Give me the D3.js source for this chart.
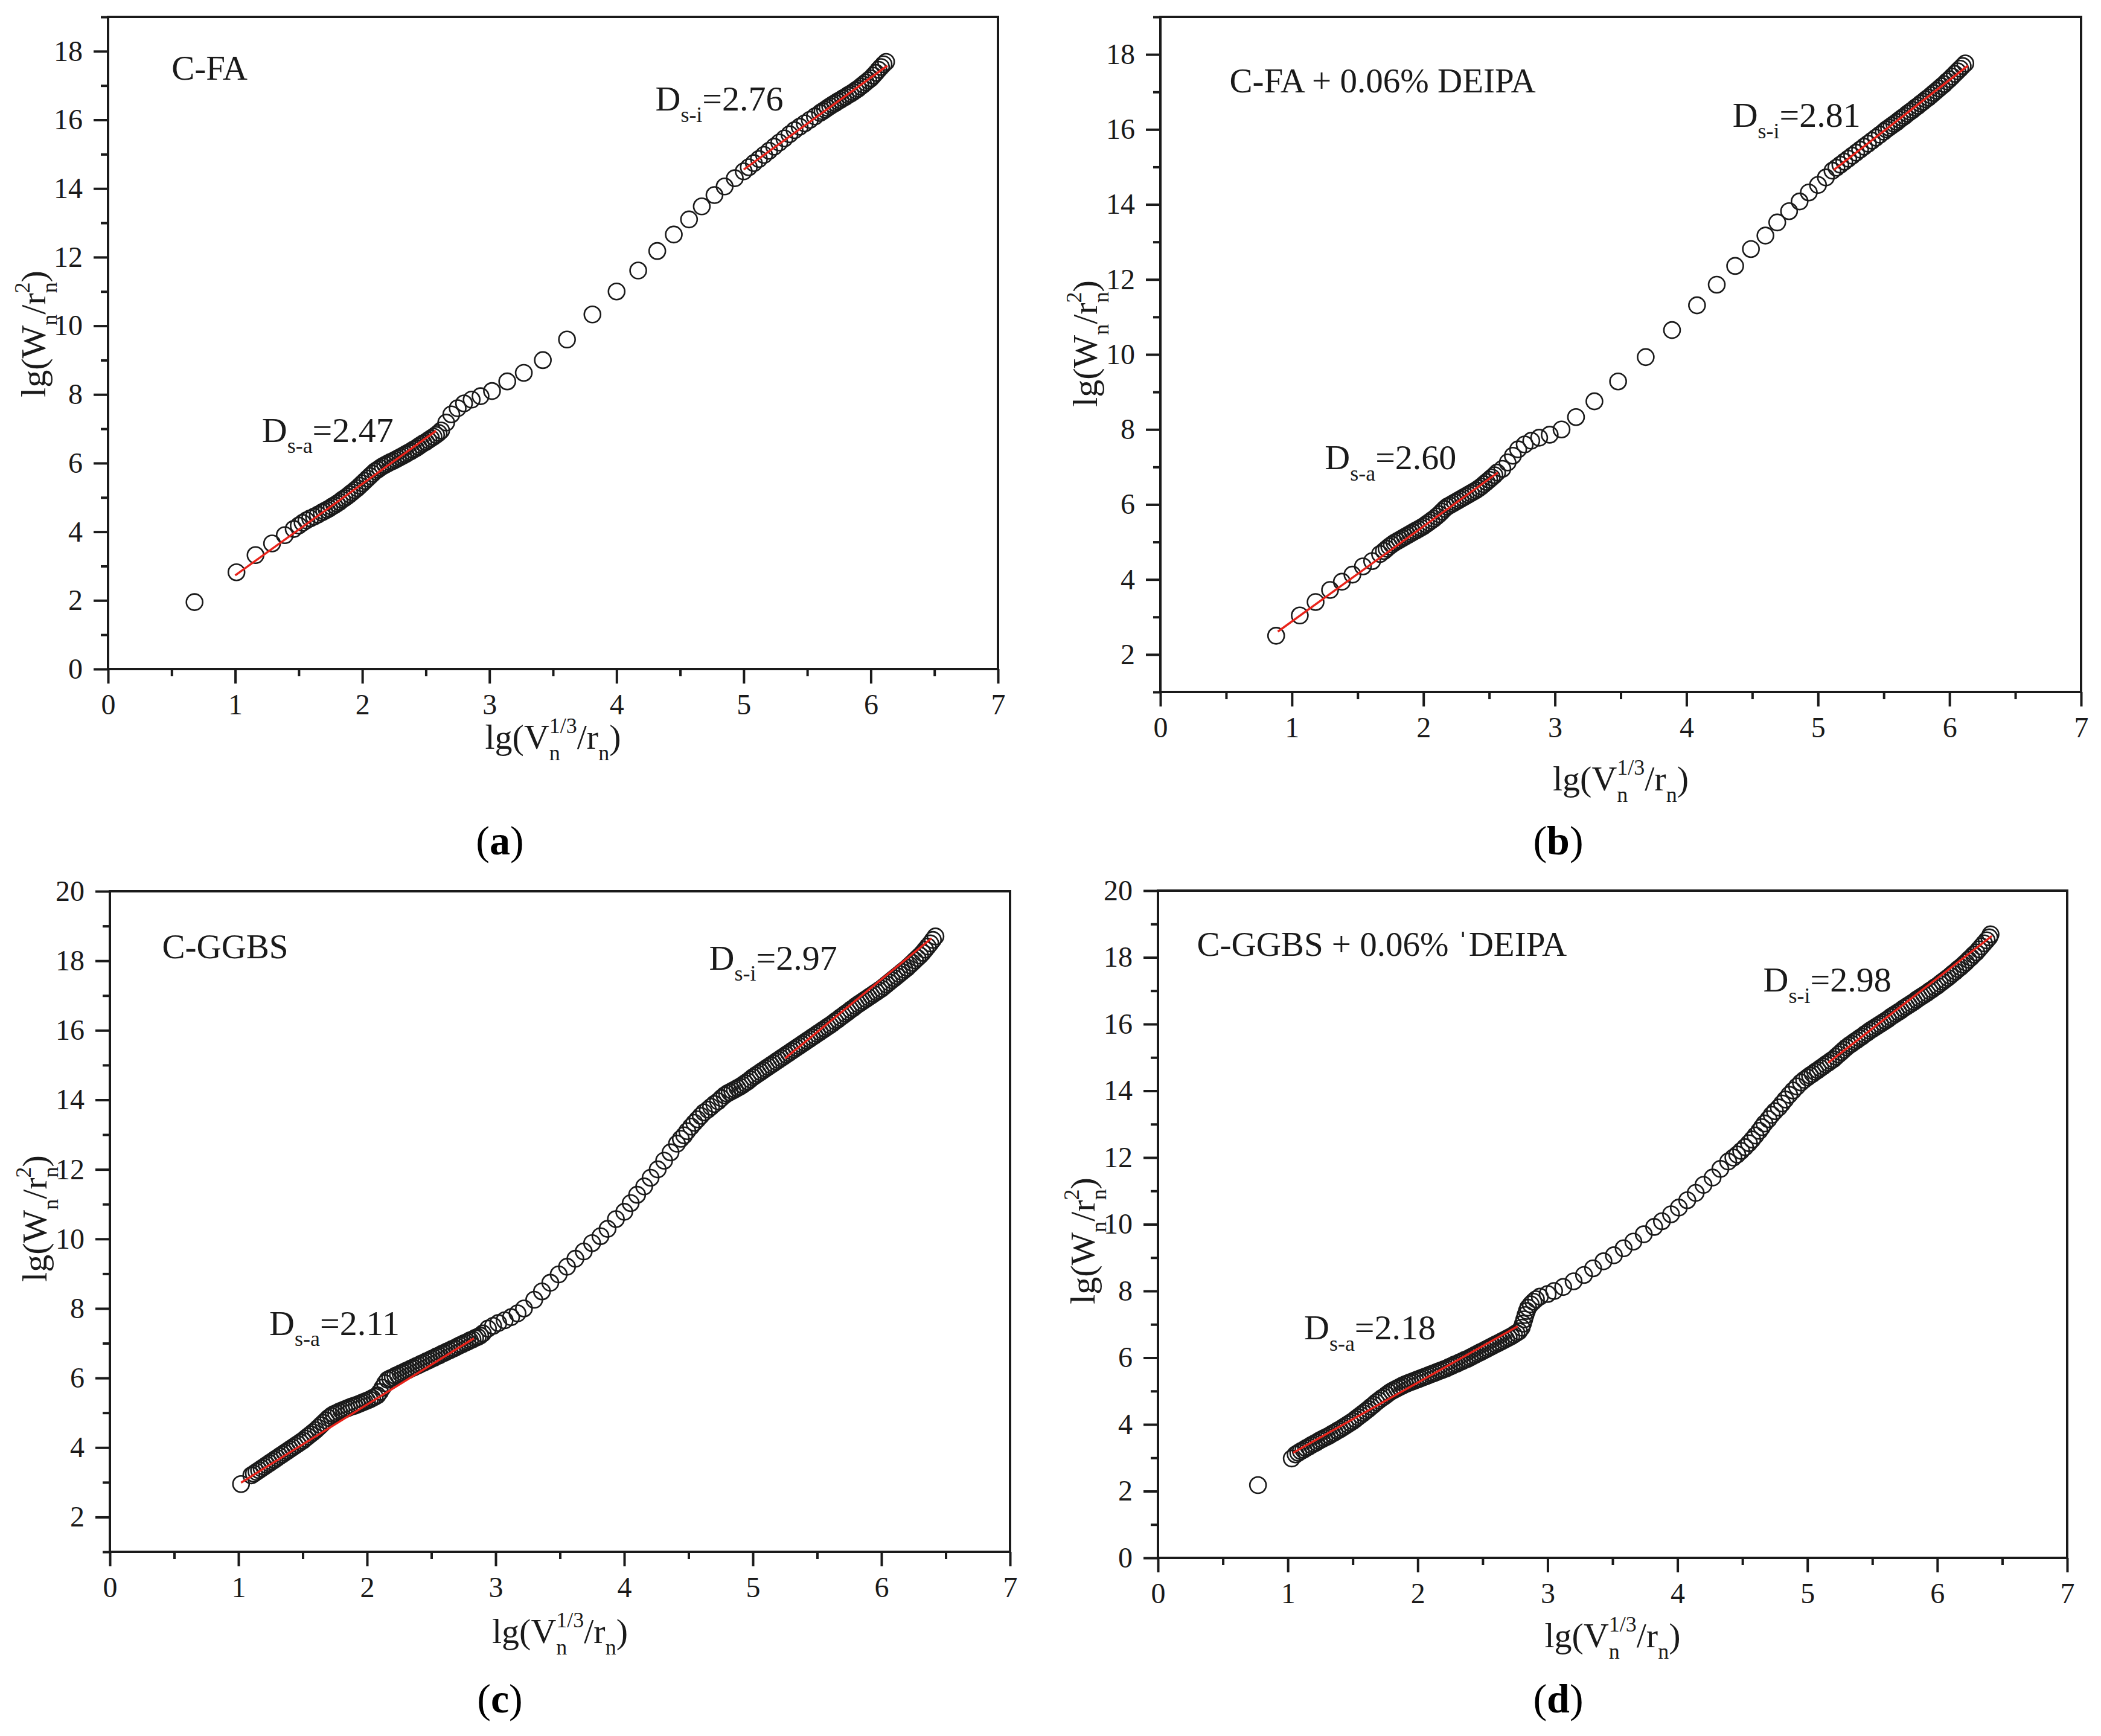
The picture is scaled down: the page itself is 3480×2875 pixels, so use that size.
<!DOCTYPE html>
<html>
<head>
<meta charset="utf-8">
<script src="https://cdn.jsdelivr.net/npm/d3@7"></script>
<style>
  body { margin: 0; background: #fff; }
  svg { display: block; }
</style>
</head>
<body>
<div id="chart"></div>
<script>
// ---- data: [lg(V^1/3/r), lg(W/r^2)] ----
var cfaPts = [
  [0.68,1.95],[1.01,2.82],[1.16,3.32],[1.29,3.66],[1.39,3.90],[1.46,4.08],
  [1.50,4.18],[1.53,4.26],[1.56,4.33],[1.59,4.39],[1.62,4.44],[1.65,4.50],[1.68,4.56],
  [1.70,4.60],[1.72,4.64],[1.74,4.68],[1.76,4.73],[1.78,4.77],[1.80,4.82],[1.82,4.87],[1.84,4.93],[1.86,4.98],[1.88,5.03],[1.90,5.09],
  [1.92,5.15],[1.94,5.21],[1.96,5.27],[1.98,5.34],[2.00,5.41],[2.02,5.48],[2.04,5.55],[2.06,5.62],[2.08,5.69],[2.10,5.76],
  [2.12,5.81],[2.14,5.86],[2.16,5.91],[2.18,5.95],[2.20,5.99],[2.22,6.03],[2.24,6.06],[2.26,6.10],[2.28,6.14],[2.30,6.18],
  [2.32,6.22],[2.34,6.26],[2.36,6.30],[2.38,6.34],[2.40,6.39],[2.42,6.43],[2.44,6.48],[2.46,6.53],[2.48,6.58],[2.50,6.62],
  [2.52,6.67],[2.54,6.72],[2.56,6.77],[2.58,6.82],[2.60,6.88],
  [2.62,6.95],[2.66,7.18],[2.70,7.42],[2.75,7.60],[2.80,7.74],[2.86,7.85],[2.93,7.95],[3.02,8.10],[3.14,8.38],[3.27,8.63],
  [3.42,9.00],[3.61,9.60],[3.81,10.33],[4.00,11.00],[4.17,11.61],[4.32,12.18],[4.45,12.66],[4.57,13.10],[4.67,13.48],
  [4.77,13.81],[4.85,14.06],[4.93,14.30],
  [5.00,14.50],[5.04,14.62],[5.08,14.74],[5.12,14.86],[5.16,14.98],[5.20,15.10],[5.24,15.22],[5.28,15.34],[5.32,15.46],
  [5.36,15.58],[5.40,15.70],[5.44,15.80],[5.48,15.90],[5.52,16.00],[5.56,16.10],
  [5.60,16.20],[5.62,16.25],[5.64,16.30],[5.66,16.35],[5.68,16.40],[5.70,16.45],[5.72,16.49],[5.74,16.54],[5.76,16.58],
  [5.78,16.63],[5.80,16.67],[5.82,16.72],[5.84,16.76],[5.86,16.81],[5.88,16.86],[5.90,16.91],[5.92,16.97],[5.94,17.03],
  [5.96,17.09],[5.98,17.15],[6.00,17.21],[6.02,17.29],[6.04,17.37],[6.06,17.46],[6.08,17.54],[6.10,17.62],[6.12,17.69]
];

var cfaDeipaPts = [
  [0.88,2.50],[1.06,3.04],[1.18,3.40],[1.29,3.72],[1.38,3.94],[1.46,4.13],[1.54,4.35],[1.61,4.49],[1.67,4.68],
  [1.70,4.76],[1.72,4.82],[1.74,4.88],[1.76,4.93],[1.78,4.98],[1.80,5.02],[1.82,5.06],[1.84,5.10],[1.86,5.14],[1.88,5.18],
  [1.90,5.22],[1.92,5.26],[1.94,5.30],[1.96,5.34],[1.98,5.38],[2.00,5.42],[2.02,5.47],[2.04,5.52],[2.06,5.57],[2.08,5.62],
  [2.10,5.68],[2.12,5.74],[2.14,5.81],[2.16,5.88],[2.18,5.94],[2.20,5.98],[2.22,6.02],[2.24,6.06],[2.26,6.10],[2.28,6.14],
  [2.30,6.18],[2.32,6.22],[2.34,6.26],[2.36,6.30],[2.38,6.34],[2.40,6.38],[2.42,6.43],[2.44,6.48],[2.46,6.54],[2.48,6.60],
  [2.50,6.66],[2.52,6.72],[2.54,6.78],[2.56,6.85],
  [2.60,6.95],[2.64,7.12],[2.68,7.30],[2.72,7.47],[2.77,7.60],[2.82,7.70],[2.88,7.78],[2.96,7.86],[3.05,8.00],[3.16,8.33],
  [3.30,8.75],[3.48,9.28],[3.69,9.93],[3.89,10.65],[4.08,11.31],[4.23,11.86],[4.37,12.36],[4.49,12.81],[4.60,13.17],
  [4.69,13.52],[4.78,13.82],[4.86,14.08],[4.93,14.32],[5.00,14.52],[5.06,14.72],[5.11,14.90],
  [5.14,14.98],[5.17,15.06],[5.20,15.14],[5.23,15.22],[5.26,15.30],[5.29,15.38],[5.32,15.46],[5.35,15.54],[5.38,15.62],
  [5.41,15.70],[5.44,15.78],[5.47,15.86],[5.50,15.94],[5.52,16.00],[5.54,16.05],[5.56,16.10],[5.58,16.15],[5.60,16.20],
  [5.62,16.26],[5.64,16.31],[5.66,16.36],[5.68,16.42],[5.70,16.47],[5.72,16.52],[5.74,16.58],[5.76,16.63],[5.78,16.69],
  [5.80,16.74],[5.82,16.80],[5.84,16.85],[5.86,16.91],[5.88,16.97],[5.90,17.03],[5.92,17.09],[5.94,17.15],[5.96,17.21],
  [5.98,17.28],[6.00,17.34],[6.02,17.41],[6.04,17.48],[6.06,17.55],[6.08,17.62],[6.10,17.69],[6.12,17.76]
];

var ggbsPts = [
  [1.02,2.95],
  [1.10,3.20],[1.12,3.25],[1.14,3.30],[1.16,3.35],[1.18,3.40],[1.20,3.45],[1.22,3.50],[1.24,3.55],[1.26,3.60],[1.28,3.65],
  [1.30,3.70],[1.32,3.75],[1.34,3.80],[1.36,3.85],[1.38,3.90],[1.40,3.95],[1.42,4.00],[1.44,4.05],[1.46,4.10],[1.48,4.15],
  [1.50,4.20],[1.52,4.26],[1.54,4.32],[1.56,4.38],[1.58,4.44],[1.60,4.50],[1.62,4.57],[1.64,4.64],[1.66,4.71],[1.68,4.78],
  [1.70,4.85],[1.72,4.91],[1.74,4.96],[1.76,4.99],[1.78,5.03],[1.80,5.06],[1.82,5.09],[1.84,5.12],[1.86,5.15],[1.88,5.18],
  [1.90,5.20],[1.92,5.23],[1.94,5.26],[1.96,5.29],[1.98,5.32],[2.00,5.35],[2.02,5.38],[2.04,5.42],[2.06,5.46],[2.08,5.50],
  [2.10,5.60],[2.12,5.72],[2.14,5.85],[2.16,5.95],[2.18,5.99],[2.20,6.02],[2.22,6.06],[2.24,6.09],[2.26,6.13],[2.28,6.16],
  [2.30,6.20],[2.32,6.23],[2.34,6.27],[2.36,6.30],[2.38,6.34],[2.40,6.37],[2.42,6.41],[2.44,6.44],[2.46,6.48],[2.48,6.51],
  [2.50,6.55],[2.52,6.58],[2.54,6.62],[2.56,6.65],[2.58,6.69],[2.60,6.72],[2.62,6.76],[2.64,6.79],[2.66,6.83],[2.68,6.86],
  [2.70,6.90],[2.72,6.94],[2.74,6.97],[2.76,7.01],[2.78,7.04],[2.80,7.08],[2.82,7.11],[2.84,7.15],[2.86,7.18],[2.88,7.22],
  [2.90,7.28],[2.94,7.42],[2.98,7.50],[3.02,7.58],[3.07,7.66],[3.12,7.75],[3.17,7.86],[3.22,8.00],
  [3.30,8.25],[3.36,8.49],[3.425,8.74],[3.49,8.98],[3.555,9.20],[3.62,9.43],[3.685,9.64],[3.75,9.88],[3.815,10.08],
  [3.87,10.29],[3.935,10.57],[4.00,10.78],[4.05,11.03],[4.10,11.27],[4.155,11.51],[4.205,11.76],[4.26,12.00],[4.31,12.25],
  [4.36,12.49],[4.41,12.74],[4.44,12.88],[4.466,12.98],[4.49,13.10],[4.52,13.23],[4.545,13.34],[4.57,13.44],[4.595,13.54],
  [4.62,13.64],[4.65,13.72],[4.675,13.80],[4.70,13.88],[4.73,13.96],[4.755,14.05],[4.78,14.13],[4.80,14.18],
  [4.82,14.22],[4.84,14.26],[4.86,14.30],[4.88,14.34],[4.90,14.38],[4.92,14.43],[4.94,14.48],[4.96,14.53],[4.98,14.59],
  [5.00,14.65],[5.02,14.70],[5.04,14.75],[5.06,14.80],[5.08,14.85],[5.10,14.90],[5.12,14.95],[5.14,15.00],[5.16,15.05],
  [5.18,15.10],[5.20,15.15],[5.22,15.20],[5.24,15.25],[5.26,15.30],[5.28,15.35],[5.30,15.40],[5.32,15.45],[5.34,15.50],
  [5.36,15.55],[5.38,15.60],[5.40,15.65],[5.42,15.70],[5.44,15.75],[5.46,15.80],[5.48,15.85],[5.50,15.90],[5.52,15.95],
  [5.54,16.00],[5.56,16.05],[5.58,16.10],[5.60,16.15],[5.62,16.20],[5.64,16.26],[5.66,16.31],[5.68,16.37],[5.70,16.42],
  [5.72,16.48],[5.74,16.53],[5.76,16.59],[5.78,16.64],[5.80,16.70],[5.82,16.75],[5.84,16.80],[5.86,16.85],[5.88,16.90],
  [5.90,16.95],[5.92,17.00],[5.94,17.05],[5.96,17.10],[5.98,17.15],[6.00,17.20],[6.02,17.26],[6.04,17.32],[6.06,17.38],
  [6.08,17.44],[6.10,17.50],[6.12,17.56],[6.14,17.62],[6.16,17.68],[6.18,17.74],[6.20,17.80],[6.22,17.87],[6.24,17.94],
  [6.26,18.01],[6.28,18.08],[6.30,18.15],[6.32,18.23],[6.34,18.32],[6.36,18.41],[6.38,18.50],[6.40,18.60],[6.42,18.70]
];

var ggbsDeipaPts = [
  [0.77,2.18],[1.03,2.98],
  [1.06,3.10],[1.08,3.15],[1.10,3.20],[1.12,3.24],[1.14,3.29],[1.16,3.33],[1.18,3.38],[1.20,3.42],[1.22,3.46],[1.24,3.51],
  [1.26,3.55],[1.28,3.59],[1.30,3.63],[1.32,3.67],[1.34,3.72],[1.36,3.76],[1.38,3.81],[1.40,3.85],[1.42,3.90],[1.44,3.95],
  [1.46,4.00],[1.48,4.05],[1.50,4.10],[1.52,4.16],[1.54,4.22],[1.56,4.28],[1.58,4.34],[1.60,4.40],[1.62,4.46],[1.64,4.53],
  [1.66,4.59],[1.68,4.66],[1.70,4.72],[1.72,4.78],[1.74,4.83],[1.76,4.89],[1.78,4.95],[1.80,5.00],[1.82,5.04],[1.84,5.08],
  [1.86,5.12],[1.88,5.16],[1.90,5.20],[1.92,5.23],[1.94,5.26],[1.96,5.29],[1.98,5.32],[2.00,5.35],[2.02,5.38],[2.04,5.41],
  [2.06,5.44],[2.08,5.47],[2.10,5.50],[2.12,5.53],[2.14,5.56],[2.16,5.59],[2.18,5.62],[2.20,5.65],[2.22,5.68],[2.24,5.72],
  [2.26,5.75],[2.28,5.79],[2.30,5.82],[2.32,5.86],[2.34,5.89],[2.36,5.93],[2.38,5.96],[2.40,6.00],[2.42,6.04],[2.44,6.08],
  [2.46,6.12],[2.48,6.16],[2.50,6.20],[2.52,6.24],[2.54,6.28],[2.56,6.32],[2.58,6.36],[2.60,6.40],[2.62,6.44],[2.64,6.48],
  [2.66,6.52],[2.68,6.56],[2.70,6.60],[2.72,6.64],[2.74,6.69],[2.76,6.74],[2.78,6.79],
  [2.80,6.90],[2.81,7.02],[2.82,7.15],[2.83,7.28],[2.84,7.40],[2.85,7.50],[2.87,7.60],[2.89,7.68],[2.91,7.75],
  [2.94,7.83],[3.00,7.91],[3.05,8.00],[3.12,8.12],[3.20,8.29],[3.28,8.48],[3.35,8.68],[3.43,8.89],[3.51,9.07],[3.585,9.28],
  [3.66,9.48],[3.74,9.70],[3.82,9.92],[3.88,10.09],[3.95,10.30],[4.01,10.50],[4.075,10.72],[4.14,10.94],[4.20,11.18],
  [4.27,11.40],[4.33,11.66],[4.39,11.88],[4.43,12.00],[4.46,12.09],[4.49,12.20],[4.52,12.31],[4.55,12.43],[4.575,12.54],
  [4.60,12.66],[4.63,12.80],[4.65,12.91],[4.67,13.02],[4.70,13.15],[4.725,13.28],[4.75,13.39],[4.78,13.50],[4.805,13.62],
  [4.83,13.74],[4.86,13.88],[4.89,14.01],[4.92,14.13],[4.95,14.25],[4.975,14.33],
  [5.00,14.40],[5.02,14.46],[5.04,14.51],[5.06,14.57],[5.08,14.62],[5.10,14.68],[5.12,14.73],[5.14,14.79],[5.16,14.84],
  [5.18,14.90],[5.20,14.95],[5.22,15.02],[5.24,15.09],[5.26,15.16],[5.28,15.23],[5.30,15.30],[5.32,15.36],[5.34,15.41],
  [5.36,15.47],[5.38,15.52],[5.40,15.58],[5.42,15.63],[5.44,15.69],[5.46,15.74],[5.48,15.80],[5.50,15.85],[5.52,15.90],
  [5.54,15.95],[5.56,16.00],[5.58,16.05],[5.60,16.10],[5.62,16.15],[5.64,16.21],[5.66,16.26],[5.68,16.31],[5.70,16.36],
  [5.72,16.41],[5.74,16.47],[5.76,16.52],[5.78,16.57],[5.80,16.62],[5.82,16.67],[5.84,16.73],[5.86,16.78],[5.88,16.83],
  [5.90,16.88],[5.92,16.93],[5.94,16.99],[5.96,17.04],[5.98,17.10],[6.00,17.15],[6.02,17.21],[6.04,17.27],[6.06,17.33],
  [6.08,17.39],[6.10,17.45],[6.12,17.52],[6.14,17.58],[6.16,17.65],[6.18,17.71],[6.20,17.78],[6.22,17.85],[6.24,17.93],
  [6.26,18.00],[6.28,18.08],[6.30,18.15],[6.32,18.24],[6.34,18.33],[6.36,18.42],[6.38,18.51],[6.40,18.60],[6.41,18.69]
];

// red fit lines (start, end) for the s-a and s-i regions
var cfaFits = [[[1.00,2.73],[2.58,6.94]], [[5.00,14.55],[6.13,17.58]]];
var cfaDeipaFits = [[[0.893,2.61],[2.566,6.85]], [[5.12,14.92],[6.14,17.70]]];
var ggbsFits = [[[1.02,2.99],[2.83,7.14]], [[5.25,15.19],[6.39,18.65]]];
var ggbsDeipaFits = [[[1.04,3.15],[2.77,6.94]], [[5.16,14.84],[6.42,18.64]]];

// sample names and fractal dimensions
var sampleNames = ["C-FA", "C-FA + 0.06% DEIPA", "C-GGBS", "C-GGBS + 0.06% \u02c8DEIPA"];
var dsaValues = ["2.47", "2.60", "2.11", "2.18"];
var dsiValues = ["2.76", "2.81", "2.97", "2.98"];
var panelTags = ["a", "b", "c", "d"];

// tick labels
var xTicks = [0, 1, 2, 3, 4, 5, 6, 7];
var yTicksA = [0, 2, 4, 6, 8, 10, 12, 14, 16, 18];
var yTicksB = [2, 4, 6, 8, 10, 12, 14, 16, 18];
var yTicksC = [2, 4, 6, 8, 10, 12, 14, 16, 18, 20];
var yTicksD = [0, 2, 4, 6, 8, 10, 12, 14, 16, 18, 20];

var FONT = "'Liberation Serif', 'Times New Roman', serif";
var INK = "#1a1a1a";

// layout of the four panels (pixels) and where their texts sit (data units)
var panels = [
  { pts: cfaPts, fits: cfaFits, yTicks: yTicksA, yDomain: [0, 19],
    left: 179, right: 1653, top: 28, bottom: 1108,
    nameAt: [0.5, 17.17], dsaAt: [1.21, 6.62], dsiAt: [4.305, 16.27],
    xTitleY: 1240, yTitleX: 75, yTitleY: 553, tagX: 828, tagY: 1415 },
  { pts: cfaDeipaPts, fits: cfaDeipaFits, yTicks: yTicksB, yDomain: [1, 19],
    left: 1922, right: 3447, top: 28, bottom: 1146,
    nameAt: [0.525, 16.98], dsaAt: [1.25, 6.94], dsiAt: [4.35, 16.07],
    xTitleY: 1309, yTitleX: 1817, yTitleY: 569, tagX: 2581, tagY: 1415 },
  { pts: ggbsPts, fits: ggbsFits, yTicks: yTicksC, yDomain: [1, 20],
    left: 182, right: 1673, top: 1476, bottom: 2570,
    nameAt: [0.406, 18.07], dsaAt: [1.24, 7.24], dsiAt: [4.66, 17.75],
    xTitleY: 2721, yTitleX: 77, yTitleY: 2018, tagX: 828, tagY: 2836 },
  { pts: ggbsDeipaPts, fits: ggbsDeipaFits, yTicks: yTicksD, yDomain: [0, 20],
    left: 1918, right: 3424, top: 1475, bottom: 2580,
    nameAt: [0.30, 18.04], dsaAt: [1.125, 6.55], dsiAt: [4.66, 16.97],
    xTitleY: 2728, yTitleX: 1813, yTitleY: 2055, tagX: 2581, tagY: 2836 }
];

var svg = d3.select("#chart").append("svg")
  .attr("width", 3480)
  .attr("height", 2875)
  .style("background", "#fff");

// text with sub/superscript pieces: [text, "sub"|"sup"|undefined, dx]
function richText(sel, parts, size) {
  var shift = 0;
  parts.forEach(function(p) {
    var target = p[1] === "sub" ? 0.32 * size : (p[1] === "sup" ? -0.45 * size : 0);
    var t = sel.append("tspan").attr("dy", target - shift).text(p[0]);
    if (p[1]) t.attr("font-size", size * 0.62);
    if (p[2]) t.attr("dx", p[2]);
    shift = target;
  });
}

function styleAxis(g) {
  g.select(".domain").remove();
  g.selectAll(".tick line").attr("stroke", INK).attr("stroke-width", 4);
  g.selectAll(".tick text").attr("fill", INK);
  g.attr("font-family", FONT).attr("font-size", 48);
}

panels.forEach(function(p, i) {
  var x = d3.scaleLinear().domain([0, 7]).range([p.left, p.right]);
  var y = d3.scaleLinear().domain(p.yDomain).range([p.bottom, p.top]);
  var g = svg.append("g");

  // minor ticks
  g.append("g")
    .attr("transform", `translate(0,${p.bottom})`)
    .call(d3.axisBottom(x).tickValues(d3.range(0.5, 7, 1)).tickSize(12).tickFormat(""))
    .call(styleAxis);
  g.append("g")
    .attr("transform", `translate(${p.left},0)`)
    .call(d3.axisLeft(y).tickValues(d3.range(p.yDomain[0], p.yDomain[1] + 0.01, 1)
      .filter(function(v) { return p.yTicks.indexOf(v) < 0; })).tickSize(12).tickFormat(""))
    .call(styleAxis);

  // major ticks + labels
  g.append("g")
    .attr("transform", `translate(0,${p.bottom})`)
    .call(d3.axisBottom(x).tickValues(xTicks).tickSize(24).tickPadding(17).tickFormat(d3.format("d")))
    .call(styleAxis);
  g.append("g")
    .attr("transform", `translate(${p.left},0)`)
    .call(d3.axisLeft(y).tickValues(p.yTicks).tickSize(24).tickPadding(18).tickFormat(d3.format("d")))
    .call(styleAxis);

  // frame
  g.append("rect")
    .attr("x", p.left).attr("y", p.top)
    .attr("width", p.right - p.left).attr("height", p.bottom - p.top)
    .attr("fill", "none").attr("stroke", INK).attr("stroke-width", 4);

  // open circles
  g.append("g").selectAll("circle")
    .data(p.pts)
    .enter()
    .append("circle")
    .attr("cx", d => x(d[0]))
    .attr("cy", d => y(d[1]))
    .attr("r", 13.5)
    .attr("fill", "none")
    .attr("stroke", INK)
    .attr("stroke-width", 2.6);

  // fitted lines
  g.append("g").selectAll("line")
    .data(p.fits)
    .enter()
    .append("line")
    .attr("x1", d => x(d[0][0])).attr("y1", d => y(d[0][1]))
    .attr("x2", d => x(d[1][0])).attr("y2", d => y(d[1][1]))
    .attr("stroke", "#e8231a")
    .attr("stroke-width", 3.5);

  // sample name
  g.append("text")
    .attr("x", x(p.nameAt[0])).attr("y", y(p.nameAt[1]))
    .attr("font-family", FONT).attr("font-size", 57).attr("fill", INK)
    .text(sampleNames[i]);

  // fractal dimension notes
  var dsa = g.append("text")
    .attr("x", x(p.dsaAt[0])).attr("y", y(p.dsaAt[1]))
    .attr("font-family", FONT).attr("font-size", 58).attr("fill", INK);
  richText(dsa, [["D"], ["s-a", "sub"], ["=" + dsaValues[i]]], 58);
  var dsi = g.append("text")
    .attr("x", x(p.dsiAt[0])).attr("y", y(p.dsiAt[1]))
    .attr("font-family", FONT).attr("font-size", 58).attr("fill", INK);
  richText(dsi, [["D"], ["s-i", "sub"], ["=" + dsiValues[i]]], 58);

  // axis titles
  var xt = g.append("text")
    .attr("x", (p.left + p.right) / 2).attr("y", p.xTitleY)
    .attr("text-anchor", "middle")
    .attr("font-family", FONT).attr("font-size", 58).attr("fill", INK);
  richText(xt, [["lg(V"], ["n", "sub"], ["1/3", "sup", -18], ["/r"], ["n", "sub"], [")"]], 58);

  var yt = g.append("text")
    .attr("x", p.yTitleX).attr("y", p.yTitleY)
    .attr("transform", `rotate(-90, ${p.yTitleX}, ${p.yTitleY})`)
    .attr("text-anchor", "middle")
    .attr("font-family", FONT).attr("font-size", 58).attr("fill", INK);
  richText(yt, [["lg(W"], ["n", "sub"], ["/r"], ["n", "sub"], ["2", "sup", -18], [")"]], 58);

  // panel tag (a)..(d)
  var tag = g.append("text")
    .attr("x", p.tagX).attr("y", p.tagY)
    .attr("text-anchor", "middle")
    .attr("font-family", FONT).attr("font-size", 68).attr("fill", "#000");
  tag.append("tspan").text("(");
  tag.append("tspan").attr("font-weight", "bold").text(panelTags[i]);
  tag.append("tspan").text(")");
});
</script>
</body>
</html>
